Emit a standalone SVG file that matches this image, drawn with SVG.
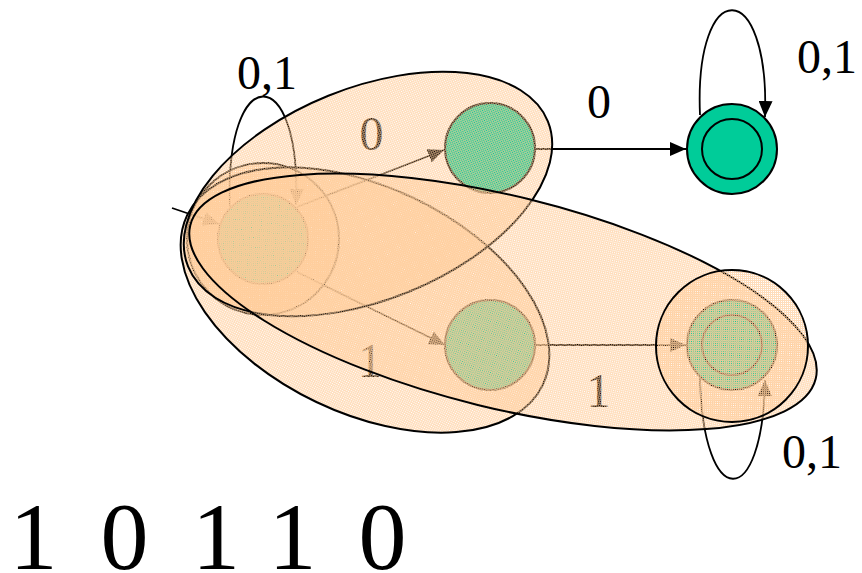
<svg xmlns="http://www.w3.org/2000/svg" width="862" height="573" viewBox="0 0 862 573">
<defs>
<marker id="ah" markerUnits="userSpaceOnUse" markerWidth="16" markerHeight="14" refX="16" refY="7" orient="auto"><path d="M0,0 L16,7 L0,14 z" fill="#000"/></marker>
<pattern id="hatch" patternUnits="userSpaceOnUse" x="0" y="0" width="2" height="2"><path d="M0,0 H2 V1 H1 V2 H0 Z" fill="#FFCC99" fill-opacity="0.67"/></pattern>
</defs>
<style>
.st{fill:#00CC99;stroke:#000;stroke-width:2}
.in{fill:none;stroke:#000;stroke-width:2}
.e{fill:none;stroke:#000;stroke-width:1.8;marker-end:url(#ah)}
.lb{font-family:"Liberation Serif","Times New Roman",serif;font-size:48px;fill:#000}
.big{font-family:"Liberation Serif","Times New Roman",serif;font-size:96px;fill:#000;text-anchor:middle}
.hl{fill:url(#hatch);stroke:#000;stroke-width:2}
</style>
<rect width="862" height="573" fill="#fff"/>
<g id="nodes">
<g id="q0"><circle class="st" cx="263" cy="239" r="45"/></g>
<g id="q1"><circle class="st" cx="490" cy="148" r="45"/></g>
<g id="q2"><circle class="st" cx="490" cy="345" r="45"/></g>
<g id="q3"><circle class="st" cx="732" cy="345" r="45"/><circle class="in" cx="732" cy="345" r="30"/></g>
<g id="q4"><circle class="st" cx="732" cy="149" r="45"/><circle class="in" cx="732" cy="149" r="30"/></g>
</g>
<g id="connectors">
<path class="e" d="M172,208 L219,224"/>
<path class="e" d="M230,207 C224,60 302,60 296,205"/>
<path class="e" d="M297,207 L444,150"/>
<path class="e" d="M297,272 L445,345"/>
<path class="e" d="M536,149 L686,149"/>
<path class="e" d="M536,345 L686,345"/>
<path class="e" d="M700,115 C694,-25 770,-25 765,117"/>
<path class="e" d="M700,378 C703,512 763,512 765,380"/>
</g>
<g id="labels">
<text class="lb" x="237" y="89">0,1</text>
<text class="lb" x="371.5" y="150" text-anchor="middle">0</text>
<text class="lb" x="599" y="118" text-anchor="middle">0</text>
<text class="lb" x="797" y="73">0,1</text>
<text class="lb" x="370" y="377" text-anchor="middle">1</text>
<text class="lb" x="598.5" y="407" text-anchor="middle">1</text>
<text class="lb" x="782" y="468">0,1</text>
</g>
<g id="highlights">
<circle class="hl" cx="263" cy="239" r="76"/>
<ellipse class="hl" cx="365" cy="300" rx="197" ry="113" transform="rotate(25.5 365 300)"/>
<ellipse class="hl" cx="368" cy="194" rx="194" ry="106" transform="rotate(-22 368 194)"/>
<ellipse class="hl" cx="503" cy="302" rx="322" ry="106" transform="rotate(13.8 503 302)"/>
<circle class="hl" cx="732" cy="346" r="76"/>
</g>
<g id="input">
<text class="big" x="33.5" y="569">1</text>
<text class="big" x="124.5" y="569">0</text>
<text class="big" x="216" y="569">1</text>
<text class="big" x="292.5" y="569">1</text>
<text class="big" x="382.5" y="569">0</text>
</g>
</svg>
